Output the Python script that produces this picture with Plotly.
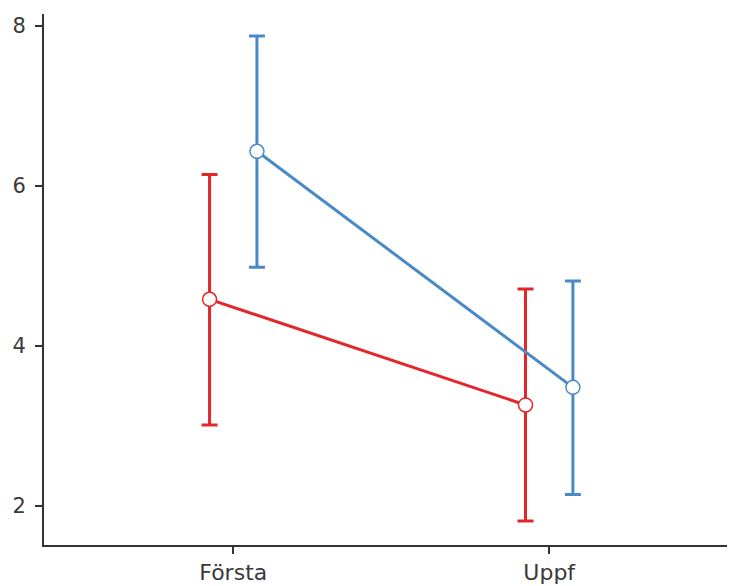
import plotly.graph_objects as go

categories = ["Första", "Uppf"]
series_names = ["A", "B"]
red_mean = [4.58, 3.26]
red_low = [3.01, 1.81]
red_high = [6.14, 4.71]
blue_mean = [6.43, 3.48]
blue_low = [4.98, 2.14]
blue_high = [7.87, 4.81]

RED = "#E3262A"
BLUE = "#4A8AC4"
dodge = 0.075

fig = go.Figure()

def add(mean, low, high, color, off, name):
    xs = [i + off for i in range(len(categories))]
    fig.add_trace(go.Scatter(
        x=xs, y=mean, mode="lines+markers", name=name,
        line=dict(color=color, width=3),
        marker=dict(size=14, color="white", line=dict(color=color, width=1.5)),
        error_y=dict(type="data", symmetric=False,
                     array=[h - m for h, m in zip(high, mean)],
                     arrayminus=[m - l for m, l in zip(mean, low)],
                     color=color, thickness=3, width=8),
        showlegend=False,
    ))

add(red_mean, red_low, red_high, RED, -dodge, series_names[0])
add(blue_mean, blue_low, blue_high, BLUE, dodge, series_names[1])

fig.update_layout(
    width=745, height=586,
    margin=dict(l=36, r=0, t=6, b=49),
    plot_bgcolor="white", paper_bgcolor="white",
    font=dict(family="DejaVu Sans, sans-serif", size=22, color="#3a3a3a"),
    xaxis=dict(range=[-0.599, 1.645], tickvals=[0, 1], ticktext=categories,
               showgrid=False, zeroline=False, showline=True, linecolor="#333333", linewidth=2,
               ticks="outside", ticklen=7, tickwidth=2, tickcolor="#333333"),
    yaxis=dict(range=[1.51, 8.146], tickvals=[2, 4, 6, 8],
               showgrid=False, zeroline=False, showline=True, linecolor="#333333", linewidth=2,
               ticks="outside", ticklen=7, tickwidth=2, tickcolor="#333333",
               tickfont=dict(size=21), ticklabelstandoff=5),
)

fig.write_html("out.html", post_script="document.documentElement.style.overflow='hidden';document.body.style.overflow='hidden';")
